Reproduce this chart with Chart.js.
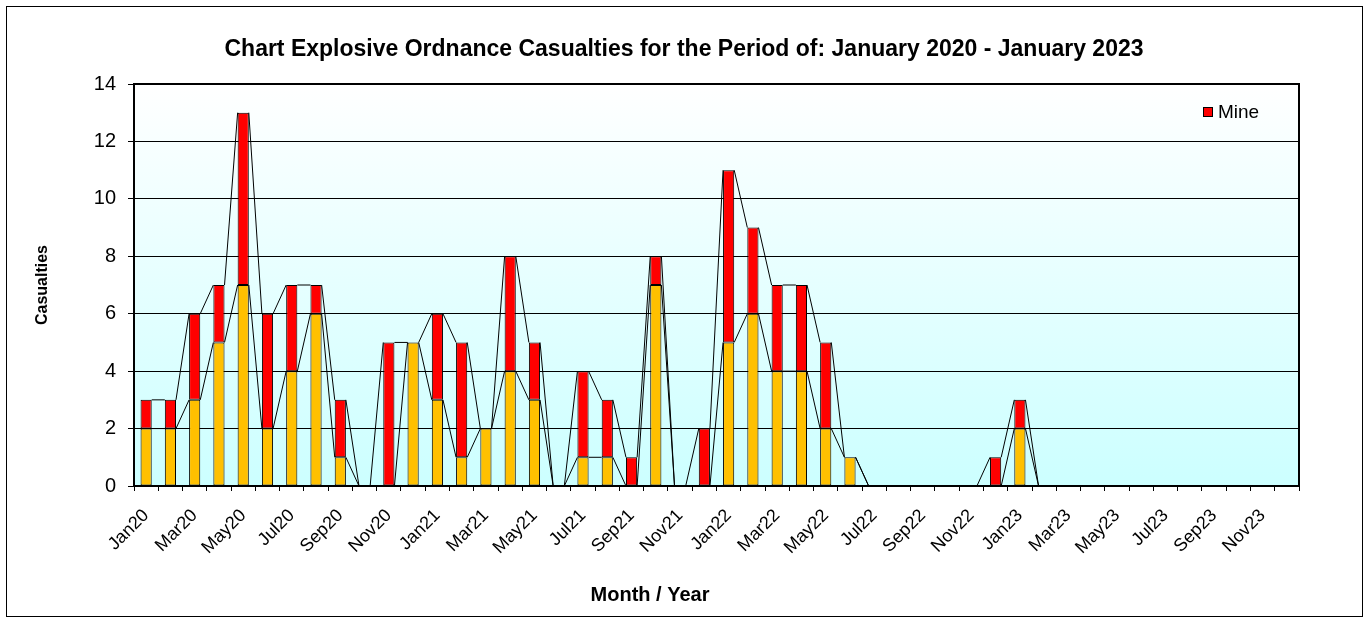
<!DOCTYPE html>
<html><head><meta charset="utf-8">
<script src="https://cdn.jsdelivr.net/npm/chart.js@4.4.0/dist/chart.umd.min.js"></script>
<style>html,body{margin:0;padding:0;background:#fff}#wrap{width:1368px;height:623px;position:relative}canvas{display:block}</style>
</head><body><div id="wrap"><canvas id="c" width="1368" height="623"></canvas></div>
<script>
const months = ["Jan20","Feb20","Mar20","Apr20","May20","Jun20","Jul20","Aug20","Sep20","Oct20","Nov20","Dec20",
  "Jan21","Feb21","Mar21","Apr21","May21","Jun21","Jul21","Aug21","Sep21","Oct21","Nov21","Dec21",
  "Jan22","Feb22","Mar22","Apr22","May22","Jun22","Jul22","Aug22","Sep22","Oct22","Nov22","Dec22",
  "Jan23","Feb23","Mar23","Apr23","May23","Jun23","Jul23","Aug23","Sep23","Oct23","Nov23","Dec23"];
const otherValues = [2,2,3,5,7,2,4,6,1,0,0,5, 3,1,2,4,3,0,1,1,0,7,0,0, 5,6,4,4,2,1,0,0,0,0,0,0, 2,0,0,0,0,0,0,0,0,0,0,0];
const mineValues  = [1,1,3,2,6,4,3,1,2,0,5,0, 3,4,0,4,2,0,3,2,1,1,0,2, 6,3,3,3,3,0,0,0,0,0,0,1, 1,0,0,0,0,0,0,0,0,0,0,0];
const yMin = 0, yMax = 14, yStep = 2;
const titleText = "Chart Explosive Ordnance Casualties for the Period of: January 2020 - January 2023";
const xTitleText = "Month / Year";
const yTitleText = "Casualties";
const FONT = "'Liberation Sans', Arial, sans-serif";

const bgPlugin = {
  id: 'bg',
  beforeDraw(chart) {
    const {ctx, chartArea: a} = chart;
    ctx.save();
    ctx.fillStyle = '#fff';
    ctx.fillRect(0, 0, chart.width, chart.height);
    ctx.strokeStyle = '#000'; ctx.lineWidth = 1;
    ctx.strokeRect(6.5, 6.5, 1356, 610);
    const g = ctx.createLinearGradient(0, a.top, 0, a.bottom);
    g.addColorStop(0, '#ffffff');
    g.addColorStop(1, '#ccffff');
    ctx.fillStyle = g;
    ctx.fillRect(a.left, a.top, a.right - a.left, a.bottom - a.top);
    ctx.restore();
  }
};
const seriesLinesPlugin = {
  id: 'seriesLines',
  afterDatasetsDraw(chart) {
    const ctx = chart.ctx;
    ctx.save();
    ctx.strokeStyle = '#000'; ctx.lineWidth = 1;
    chart.data.datasets.forEach((ds, di) => {
      const meta = chart.getDatasetMeta(di);
      ctx.beginPath();
      for (let i = 0; i < meta.data.length - 1; i++) {
        const p = meta.data[i], q = meta.data[i + 1];
        ctx.moveTo(p.x + p.width / 2, p.y);
        ctx.lineTo(q.x - q.width / 2, q.y);
      }
      ctx.stroke();
    });
    const a = chart.chartArea;
    ctx.lineWidth = 2;
    ctx.strokeRect(a.left, a.top, a.right - a.left, a.bottom - a.top);
    // legend (only the Mine series is listed)
    ctx.fillStyle = '#ff0000';
    ctx.fillRect(1203, 107, 10, 10);
    ctx.lineWidth = 1;
    ctx.strokeRect(1203.5, 107.5, 9, 9);
    ctx.fillStyle = '#000';
    ctx.font = "19px " + FONT;
    ctx.textBaseline = 'middle';
    ctx.textAlign = 'left';
    ctx.fillText(chart.data.datasets[1].label, 1218, 112.5);
    // x axis title
    ctx.font = "bold 20px " + FONT;
    ctx.textAlign = 'center';
    ctx.fillText(xTitleText, 650, 595);
    ctx.restore();
  }
};

new Chart(document.getElementById('c'), {
  type: 'bar',
  data: {
    labels: months,
    datasets: [
      {label: 'Other', data: otherValues, backgroundColor: '#ffc000', borderColor: '#000', borderWidth: 1, borderSkipped: false, stack: 's'},
      {label: 'Mine', data: mineValues, backgroundColor: '#ff0000', borderColor: '#000', borderWidth: 1, borderSkipped: false, stack: 's'}
    ]
  },
  options: {
    responsive: false,
    animation: false,
    devicePixelRatio: 1,
    datasets: {bar: {categoryPercentage: 1, barPercentage: 0.46}},
    layout: {padding: 0},
    plugins: {
      legend: {display: false},
      tooltip: {enabled: false},
      title: {display: true, text: titleText, color: '#000', font: {family: FONT, size: 23, weight: 'bold'}, padding: {top: 36, bottom: 20.4}}
    },
    scales: {
      x: {
        stacked: true,
        grid: {display: true, drawOnChartArea: false, drawTicks: true, tickLength: 5, color: '#000', offset: true},
        border: {display: true, color: '#000', width: 2},
        ticks: {autoSkip: false, maxRotation: 45, minRotation: 45, color: '#000', padding: 14,
          font: {family: FONT, size: 18},
          callback: (v, i) => (i % 2 === 0 ? months[i] : '')},
        title: {display: false, text: xTitleText},
        afterFit: s => { s.height = 137; }
      },
      y: {
        stacked: true, min: yMin, max: yMax,
        grid: {color: '#000', lineWidth: 1, tickLength: 6},
        border: {display: true, color: '#000', width: 2},
        ticks: {stepSize: yStep, color: '#000', padding: 12, font: {family: FONT, size: 20}},
        title: {display: true, text: yTitleText, color: '#000', font: {family: FONT, size: 16, weight: 'bold'}, padding: {top: 33, bottom: 0}},
        afterFit: s => { s.width = 134; }
      },
      y2: {
        position: 'right', display: true, min: yMin, max: yMax,
        grid: {display: false}, border: {display: false}, ticks: {display: false},
        afterFit: s => { s.width = 69; }
      }
    }
  },
  plugins: [bgPlugin, seriesLinesPlugin]
});
</script>
</body></html>
